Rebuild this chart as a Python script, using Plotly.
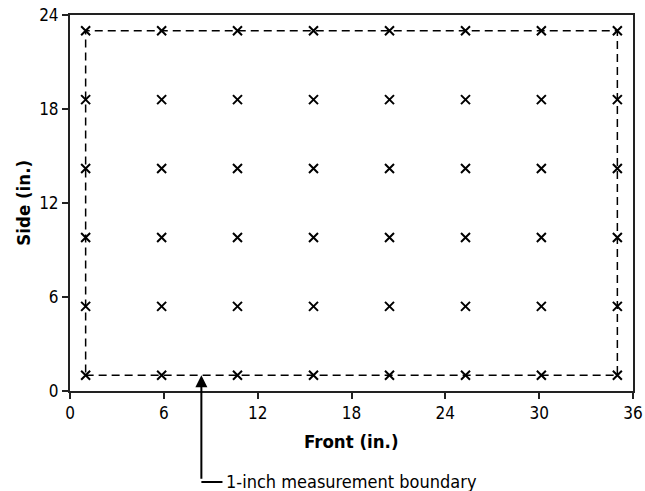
import plotly.graph_objects as go

x_positions = [1, 5.86, 10.71, 15.57, 20.43, 25.29, 30.14, 35]
y_positions = [1, 5.4, 9.8, 14.2, 18.6, 23]
x_ticks = [0, 6, 12, 18, 24, 30, 36]
y_ticks = [0, 6, 12, 18, 24]
boundary_x = [1, 35, 35, 1, 1]
boundary_y = [1, 1, 23, 23, 1]
note_text = "1-inch measurement boundary"
note_x = 8.4

px = [xv for yv in y_positions for xv in x_positions]
py = [yv for yv in y_positions for xv in x_positions]

fig = go.Figure()
fig.add_trace(go.Scatter(x=boundary_x, y=boundary_y, mode="lines",
                         line=dict(color="black", width=1.5, dash="8px,5px"),
                         hoverinfo="skip", showlegend=False))
fig.add_trace(go.Scatter(x=px, y=py, mode="markers",
                         marker=dict(symbol="x-thin", size=9,
                                     line=dict(color="black", width=2)),
                         showlegend=False))

font = "DejaVu Sans Condensed, DejaVu Sans, Verdana, sans-serif"
axis_common = dict(ticks="outside", ticklen=6, tickwidth=1.5, tickcolor="#222",
                   showgrid=False, zeroline=False, showline=True,
                   linecolor="#222", linewidth=2, mirror=True,
                   automargin=False, ticklabeloverflow="allow",
                   tickfont=dict(size=17))
fig.update_layout(
    width=645, height=491,
    margin=dict(l=69.5, r=12, t=15, b=100),
    plot_bgcolor="white", paper_bgcolor="white",
    font=dict(family=font, size=17, color="black"),
    xaxis=dict(range=[0, 36], tickvals=x_ticks, **axis_common),
    yaxis=dict(range=[0, 24], tickvals=y_ticks, **axis_common),
)

# axis titles
fig.add_annotation(x=0.5, y=-0.135, xref="paper", yref="paper",
                   text="<b>Front (in.)</b>", showarrow=False,
                   xanchor="center", yanchor="middle", font=dict(size=18.5))
fig.add_annotation(x=-0.084, y=0.5, xref="paper", yref="paper",
                   text="<b>Side (in.)</b>", showarrow=False, textangle=-90,
                   xanchor="center", yanchor="middle", font=dict(size=18.5))

# arrow pointing up to the boundary
fig.add_annotation(x=note_x, y=1, xref="x", yref="y", ax=0, ay=105,
                   showarrow=True, arrowhead=2, arrowsize=1.2, arrowwidth=2,
                   arrowcolor="black", text="")
fig.add_shape(type="line", xref="x", yref="paper", x0=note_x, x1=9.75,
              y0=-0.242, y1=-0.242, line=dict(color="black", width=2))
fig.add_annotation(x=9.85, y=-0.242, xref="x", yref="paper", text=note_text,
                   showarrow=False, xanchor="left", yanchor="middle",
                   font=dict(size=18, family=font))

fig.write_html("out.html",
               config={"displayModeBar": False},
               post_script="document.body.style.margin='0';document.body.style.overflow='hidden';")
